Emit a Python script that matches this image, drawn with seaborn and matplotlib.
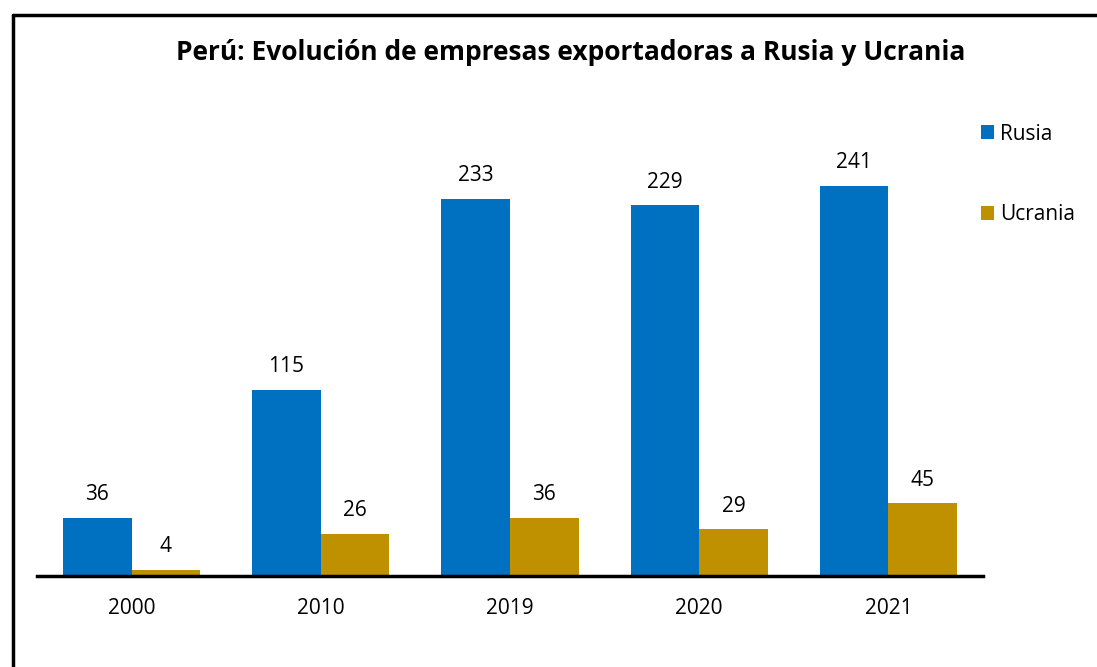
import pandas as pd
import matplotlib.pyplot as plt
import seaborn as sns
from matplotlib.lines import Line2D

anios = ['2000', '2010', '2019', '2020', '2021']
rusia = [36, 115, 233, 229, 241]
ucrania = [4, 26, 36, 29, 45]

data = pd.DataFrame({
    'Año': anios * 2,
    'Empresas': rusia + ucrania,
    'Destino': ['Rusia'] * len(anios) + ['Ucrania'] * len(anios),
})

sns.set_style('white')
plt.rcParams['font.family'] = ['Open Sans', 'DejaVu Sans']
plt.rcParams['text.color'] = 'black'
plt.rcParams['xtick.color'] = 'black'

fig = plt.figure(figsize=(10.97, 6.67), dpi=100)
ax = fig.add_axes([37 / 1097, 91 / 667, 946 / 1097, 476 / 667])

sns.barplot(data=data, x='Año', y='Empresas', hue='Destino',
            palette={'Rusia': '#0070C0', 'Ucrania': '#BF9000'},
            width=0.725, saturation=1, ax=ax, edgecolor='none')

for c in ax.containers:
    ax.bar_label(c, padding=9, fontsize=15, color='black')

ax.set_xlim(-0.5, 4.5)
ax.set_ylim(0, 294)
ax.set_yticks([])
ax.set_xlabel('')
ax.set_ylabel('')
for s in ['top', 'right', 'left']:
    ax.spines[s].set_visible(False)
ax.spines['bottom'].set_linewidth(2.5)
ax.spines['bottom'].set_color('black')
ax.tick_params(axis='x', length=0, labelsize=15, labelcolor='black', pad=16)

leg = ax.legend(loc='upper left', bbox_to_anchor=(0.978, 0.99), frameon=False,
                fontsize=15, labelspacing=2.85, handlelength=0.65, handleheight=0.65,
                handletextpad=0.25)
for t in leg.get_texts():
    t.set_color('black')

fig.text(0.52, 0.921, 'Perú: Evolución de empresas exportadoras a Rusia y Ucrania',
         ha='center', va='center', fontsize=19, fontweight='bold', color='black')

# marco de la figura
fig.add_artist(Line2D([13 / 1097, 13 / 1097], [0, 1 - 15 / 667], color='black', lw=2.5))
fig.add_artist(Line2D([13 / 1097, 1], [1 - 15 / 667, 1 - 15 / 667], color='black', lw=2.5))

fig.savefig('out.png', dpi=100)
